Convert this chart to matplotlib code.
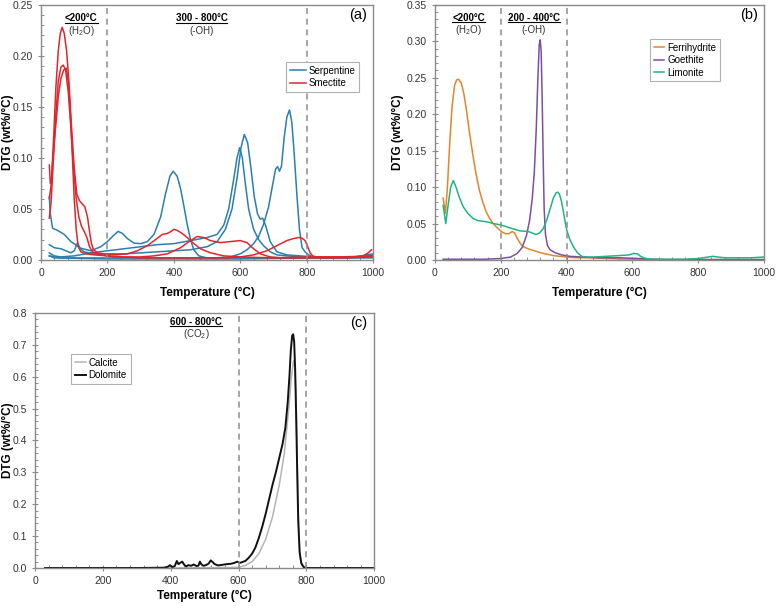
import matplotlib
matplotlib.use("Agg")
import matplotlib.pyplot as plt
from matplotlib.lines import Line2D
from matplotlib.ticker import MultipleLocator, FormatStrFormatter

plt.rcParams['font.family'] = ['Liberation Sans', 'DejaVu Sans']
plt.rcParams['mathtext.fontset'] = 'custom'
plt.rcParams['mathtext.rm'] = 'Liberation Sans'

# ---- panel (a): serpentine / smectite ----
serp1_t = [25, 28, 35, 50, 70, 90, 120, 150, 180, 200, 215, 232, 245, 260, 280, 300, 320, 340, 360, 375,
           388, 398, 410, 420, 430, 440, 450, 460, 475, 500, 550, 600, 700, 800, 900, 1000]
serp1_v = [0.062, 0.045, 0.031, 0.029, 0.025, 0.018, 0.0115, 0.009, 0.013, 0.018, 0.023, 0.028, 0.026, 0.021,
           0.0165, 0.016, 0.018, 0.025, 0.042, 0.065, 0.082, 0.087, 0.082, 0.07, 0.053, 0.035, 0.02, 0.01, 0.004,
           0.002, 0.002, 0.002, 0.002, 0.002, 0.002, 0.002]
serp2_t = [25, 40, 60, 100, 150, 200, 250, 300, 350, 400, 450, 500, 530, 550, 565, 580, 590, 598, 606, 615,
           625, 640, 655, 670, 690, 710, 740, 780, 820, 900, 1000]
serp2_v = [0.007, 0.004, 0.003, 0.004, 0.007, 0.009, 0.011, 0.013, 0.015, 0.016, 0.019, 0.022, 0.025, 0.034,
           0.05, 0.079, 0.1, 0.11, 0.1, 0.075, 0.05, 0.03, 0.02, 0.014, 0.008, 0.005, 0.004, 0.003, 0.002, 0.002,
           0.003]
serp3_t = [25, 40, 60, 90, 100, 110, 118, 130, 160, 200, 250, 300, 350, 400, 450, 500, 530, 555, 575, 590,
           602, 612, 622, 632, 642, 652, 660, 667, 675, 690, 710, 740, 780, 820, 900, 960, 1000]
serp3_v = [0.015, 0.012, 0.011, 0.007, 0.009, 0.017, 0.011, 0.008, 0.006, 0.006, 0.006, 0.007, 0.008, 0.009,
           0.01, 0.013, 0.018, 0.03, 0.05, 0.08, 0.11, 0.123, 0.115, 0.09, 0.062, 0.045, 0.04, 0.041, 0.035,
           0.018, 0.008, 0.005, 0.004, 0.003, 0.002, 0.003, 0.005]
serp4_t = [25, 40, 80, 150, 250, 350, 450, 520, 570, 600, 620, 640, 655, 670, 685, 698, 706, 712, 718, 724,
           732, 740, 748, 755, 762, 770, 778, 786, 795, 805, 820, 850, 900, 950, 1000]
serp4_v = [0.004, 0.002, 0.002, 0.002, 0.002, 0.002, 0.002, 0.002, 0.003, 0.006, 0.01, 0.016, 0.023, 0.035,
           0.052, 0.075, 0.089, 0.0915, 0.087, 0.092, 0.12, 0.14, 0.147, 0.135, 0.105, 0.065, 0.03, 0.012,
           0.008, 0.005, 0.003, 0.002, 0.002, 0.003, 0.004]
serp5_t = [25, 60, 200, 400, 600, 800, 900, 950, 980, 1000]
serp5_v = [0.004, 0.002, 0.001, 0.001, 0.001, 0.002, 0.002, 0.003, 0.005, 0.006]

smec1_t = [25, 28, 32, 38, 45, 52, 58, 64, 70, 77, 84, 92, 100, 108, 116, 124, 132, 140, 146, 152, 158, 170,
           190, 220, 260, 290, 320, 345, 365, 380, 392, 400, 410, 425, 440, 460, 480, 510, 550, 600, 700, 800,
           900, 1000]
smec1_v = [0.093, 0.075, 0.08, 0.12, 0.17, 0.205, 0.222, 0.228, 0.222, 0.205, 0.175, 0.13, 0.09, 0.064, 0.058,
           0.055, 0.052, 0.042, 0.028, 0.016, 0.01, 0.007, 0.006, 0.005, 0.006, 0.009, 0.014, 0.02, 0.025,
           0.026, 0.028, 0.03, 0.029, 0.026, 0.022, 0.016, 0.011, 0.007, 0.004, 0.003, 0.002, 0.003, 0.003,
           0.004]
smec2_t = [25, 30, 36, 44, 52, 60, 67, 74, 82, 90, 98, 106, 114, 122, 130, 138, 146, 155, 165, 180, 220, 260,
           300, 340, 380, 420, 450, 470, 490, 510, 540, 570, 600, 620, 640, 660, 690, 730, 800, 900, 1000]
smec2_v = [0.041, 0.055, 0.09, 0.14, 0.175, 0.189, 0.191, 0.186, 0.165, 0.13, 0.09, 0.06, 0.042, 0.033, 0.028,
           0.022, 0.013, 0.008, 0.006, 0.005, 0.003, 0.003, 0.003, 0.004, 0.006, 0.012, 0.019, 0.023, 0.022,
           0.019, 0.017, 0.018, 0.019, 0.017, 0.011, 0.006, 0.003, 0.002, 0.002, 0.002, 0.003]
smec3_t = [25, 30, 36, 44, 52, 60, 68, 76, 82, 88, 94, 100, 106, 112, 120, 135, 160, 200, 250, 300, 400, 500,
           560, 600, 640, 680, 710, 740, 760, 775, 785, 795, 803, 810, 818, 830, 860, 900, 940, 970, 985, 995]
smec3_v = [0.06, 0.072, 0.1, 0.13, 0.16, 0.178, 0.186, 0.188, 0.175, 0.145, 0.105, 0.06, 0.03, 0.013, 0.008,
           0.006, 0.005, 0.004, 0.003, 0.002, 0.002, 0.002, 0.002, 0.003, 0.005, 0.009, 0.014, 0.019, 0.021,
           0.022, 0.0215, 0.019, 0.013, 0.007, 0.004, 0.003, 0.003, 0.003, 0.003, 0.004, 0.007, 0.01]

# ---- panel (b): iron oxyhydroxides ----
ferri_t = [25, 32, 38, 45, 52, 60, 66, 72, 80, 88, 96, 105, 115, 125, 135, 145, 155, 165, 175, 185, 195, 205,
           215, 225, 235, 242, 250, 260, 270, 285, 300, 320, 340, 360, 380, 400, 430, 470, 520, 600, 700, 800,
           900, 1000]
ferri_v = [0.085, 0.064, 0.1, 0.16, 0.21, 0.24, 0.247, 0.248, 0.243, 0.228, 0.205, 0.175, 0.145, 0.118, 0.096,
           0.08, 0.067, 0.058, 0.051, 0.046, 0.042, 0.038, 0.036, 0.036, 0.039, 0.037, 0.03, 0.022, 0.018,
           0.015, 0.013, 0.01, 0.008, 0.006, 0.005, 0.004, 0.003, 0.003, 0.002, 0.001, 0.0005, 0.0005, 0.0005,
           0.0005]
goeth_t = [25, 100, 150, 200, 230, 250, 265, 278, 288, 296, 302, 308, 313, 317, 320, 323, 326, 329, 332, 336,
           342, 350, 365, 385, 410, 450, 500, 560, 620, 660, 700, 800, 900, 1000]
goeth_v = [0.001, 0.001, 0.001, 0.002, 0.004, 0.009, 0.017, 0.033, 0.055, 0.085, 0.12, 0.18, 0.25, 0.295,
           0.302, 0.285, 0.22, 0.14, 0.07, 0.035, 0.02, 0.014, 0.01, 0.007, 0.005, 0.004, 0.003, 0.003, 0.002,
           0.001, 0.0005, 0.0005, 0.0005, 0.0005]
limon_t = [25, 33, 40, 48, 56, 64, 75, 86, 100, 116, 130, 147, 162, 177, 190, 201, 215, 228, 243, 258, 272,
           284, 296, 307, 318, 329, 340, 350, 360, 368, 373, 378, 385, 392, 400, 410, 421, 433, 446, 460, 480,
           520, 560, 590, 605, 615, 625, 640, 660, 700, 760, 800, 830, 845, 860, 880, 920, 960, 1000]
limon_v = [0.075, 0.05, 0.075, 0.1, 0.109, 0.1, 0.085, 0.073, 0.064, 0.057, 0.054, 0.053, 0.052, 0.05, 0.049,
           0.048, 0.046, 0.044, 0.042, 0.04, 0.0395, 0.039, 0.037, 0.035, 0.037, 0.043, 0.055, 0.07, 0.085,
           0.092, 0.093, 0.091, 0.08, 0.062, 0.042, 0.028, 0.018, 0.01, 0.005, 0.004, 0.004, 0.005, 0.006,
           0.007, 0.009, 0.0085, 0.005, 0.002, 0.001, 0.001, 0.001, 0.002, 0.004, 0.005, 0.004, 0.003, 0.003,
           0.003, 0.004]

# ---- panel (c): carbonates ----
calc_t = [30, 200, 400, 600, 620, 640, 660, 680, 700, 720, 735, 748, 756, 762, 766, 769, 772, 775, 778, 782,
          788, 795, 850, 1000]
calc_v = [0.0, 0.0, 0.0, 0.002, 0.008, 0.02, 0.045, 0.09, 0.16, 0.26, 0.36, 0.5, 0.6, 0.65, 0.63, 0.55, 0.4,
          0.22, 0.1, 0.03, 0.006, 0.0, 0.0, 0.0]
dolo_t = [30, 100, 200, 300, 380, 392, 398, 404, 412, 418, 423, 428, 434, 440, 446, 452, 460, 468, 476, 482,
          486, 490, 496, 504, 512, 518, 524, 530, 540, 552, 564, 576, 588, 596, 604, 612, 620, 630, 640, 650,
          660, 670, 680, 690, 700, 710, 720, 730, 738, 745, 750, 754, 758, 761, 764, 767, 770, 773, 776, 780,
          785, 792, 800, 900, 1000]
dolo_v = [0.0, 0.0, 0.0, 0.0, 0.001, 0.004, 0.009, 0.003, 0.006, 0.022, 0.012, 0.016, 0.02, 0.01, 0.005,
          0.009, 0.007, 0.011, 0.006, 0.008, 0.02, 0.012, 0.007, 0.009, 0.014, 0.024, 0.018, 0.012, 0.008, 0.01,
          0.012, 0.013, 0.016, 0.02, 0.016, 0.019, 0.022, 0.032, 0.045, 0.065, 0.095, 0.13, 0.17, 0.215, 0.26,
          0.3, 0.345, 0.39, 0.44, 0.52, 0.6, 0.68, 0.728, 0.733, 0.71, 0.62, 0.47, 0.3, 0.15, 0.05, 0.015,
          0.003, 0.0, 0.0, 0.0]

BLUE = '#2b7fae'
RED = '#e0262d'
FRAME = '#8a8a8a'


def style_axes(ax, ymax, ymajor, yminor, yfmt, ylab_x, xlab_y):
    ax.set_xlim(0, 1000)
    ax.set_ylim(0, ymax)
    ax.xaxis.set_major_locator(MultipleLocator(200))
    ax.xaxis.set_minor_locator(MultipleLocator(40))
    ax.yaxis.set_major_locator(MultipleLocator(ymajor))
    ax.yaxis.set_minor_locator(MultipleLocator(yminor))
    ax.yaxis.set_major_formatter(FormatStrFormatter(yfmt))
    ax.tick_params(which='major', direction='inout', length=5, width=0.8, color=FRAME,
                   labelsize=7.5, labelcolor='#333333')
    ax.tick_params(which='minor', direction='in', length=2.5, width=0.7, color=FRAME)
    for s in ax.spines.values():
        s.set_color(FRAME)
        s.set_linewidth(1.0)
    ax.set_xlabel('Temperature (°C)', fontsize=8.5, fontweight='bold')
    ax.set_ylabel('DTG (wt%/°C)', fontsize=8.5, fontweight='bold')
    ax.yaxis.set_label_coords(ylab_x, 0.5)
    ax.xaxis.set_label_coords(0.5, xlab_y)


def add_range(ax, x, y1, y2, title, sub):
    t = ax.text(x, y1, title, ha='center', va='center', fontsize=7, fontweight='bold')
    ax.text(x, y2, sub, ha='center', va='center', fontsize=7, color='#333333')
    underlines.append((ax, t))


def add_legend(ax, anchor, hl):
    leg = ax.legend(loc='upper left', bbox_to_anchor=anchor, fontsize=7, frameon=True, fancybox=False,
                    framealpha=1, edgecolor='#b0b0b0', handlelength=hl, handletextpad=0.3,
                    borderpad=0.4, labelspacing=0.25, borderaxespad=0)
    leg.get_frame().set_linewidth(0.8)


underlines = []
fig = plt.figure(figsize=(7.78, 6.06), dpi=100)
ax_a = fig.add_axes([0.0527, 0.571, 0.427, 0.421])
ax_b = fig.add_axes([0.559, 0.571, 0.423, 0.421])
ax_c = fig.add_axes([0.045, 0.0627, 0.436, 0.421])

# (a)
lw = 1.1
ax_a.plot(serp1_t, serp1_v, color=BLUE, lw=lw, label='Serpentine')
for t, v in [(serp2_t, serp2_v), (serp3_t, serp3_v), (serp4_t, serp4_v), (serp5_t, serp5_v)]:
    ax_a.plot(t, v, color=BLUE, lw=lw)
ax_a.plot(smec1_t, smec1_v, color=RED, lw=lw, label='Smectite')
for t, v in [(smec2_t, smec2_v), (smec3_t, smec3_v)]:
    ax_a.plot(t, v, color=RED, lw=lw)
style_axes(ax_a, 0.25, 0.05, 0.01, '%.2f', -0.082, -0.105)
for xv in (200, 800):
    ax_a.axvline(xv, color='#8c8c8c', ls=(0, (4, 3)), lw=1.1)
add_range(ax_a, 121, 0.237, 0.2245, '<200°C', '(H$_2$O)')
add_range(ax_a, 483, 0.237, 0.2245, '300 - 800°C', '(-OH)')
ax_a.text(0.955, 0.96, '(a)', transform=ax_a.transAxes, ha='center', va='center', fontsize=10.5)
add_legend(ax_a, (0.738, 0.776), 1.6)

# (b)
ax_b.plot(ferri_t, ferri_v, color='#e0872c', lw=lw, label='Ferrihydrite')
ax_b.plot(goeth_t, goeth_v, color='#7b4f9e', lw=lw, label='Goethite')
ax_b.plot(limon_t, limon_v, color='#1fb487', lw=lw, label='Limonite')
style_axes(ax_b, 0.35, 0.05, 0.01, '%.2f', -0.094, -0.105)
for xv in (200, 400):
    ax_b.axvline(xv, color='#8c8c8c', ls=(0, (4, 3)), lw=1.1)
add_range(ax_b, 103, 0.332, 0.3157, '<200°C', '(H$_2$O)')
add_range(ax_b, 301, 0.332, 0.3157, '200 - 400°C', '(-OH)')
ax_b.text(0.955, 0.96, '(b)', transform=ax_b.transAxes, ha='center', va='center', fontsize=10.5)
add_legend(ax_b, (0.653, 0.867), 1.1)

# (c)
ax_c.plot(calc_t, calc_v, color='#b4b4b4', lw=1.1, label='Calcite')
ax_c.plot(dolo_t, dolo_v, color='#111111', lw=1.4, label='Dolomite')
style_axes(ax_c, 0.8, 0.1, 0.02, '%.1f', -0.063, -0.086)
for xv in (600, 800):
    ax_c.axvline(xv, color='#8c8c8c', ls=(0, (4, 3)), lw=1.1)
add_range(ax_c, 475, 0.772, 0.734, '600 - 800°C', '(CO$_2$)')
ax_c.text(0.955, 0.96, '(c)', transform=ax_c.transAxes, ha='center', va='center', fontsize=10.5)
add_legend(ax_c, (0.106, 0.839), 1.1)

# underline the bold range titles
fig.canvas.draw()
inv = fig.transFigure.inverted()
for ax, t in underlines:
    bb = t.get_window_extent()
    (x0, y0), (x1, _) = inv.transform([(bb.x0, bb.y0), (bb.x1, bb.y1)])
    fig.add_artist(Line2D([x0, x1], [y0 + 0.001, y0 + 0.001], color='black', lw=0.8,
                          transform=fig.transFigure))

fig.savefig('out.png', dpi=100)
